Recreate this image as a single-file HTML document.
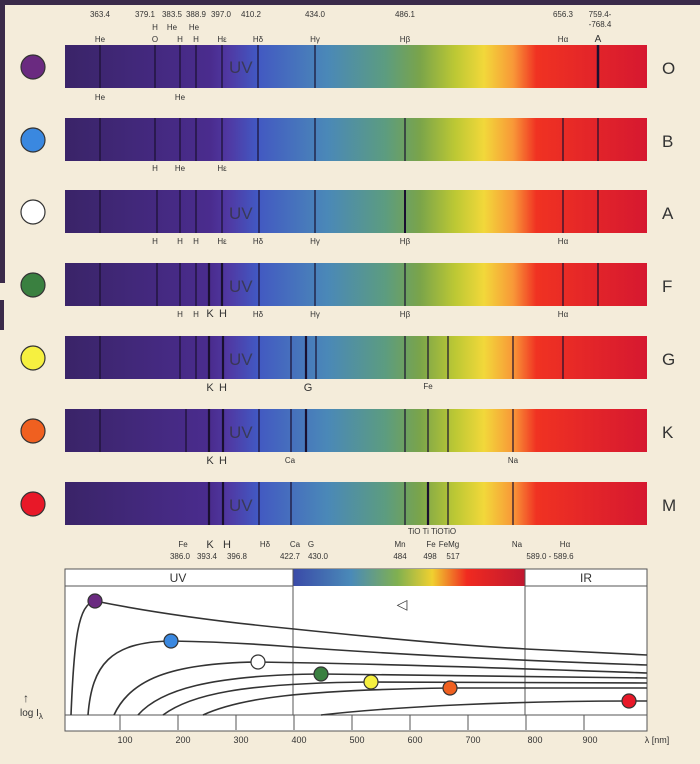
<!DOCTYPE html>
<html><head><meta charset="utf-8"><style>
body{margin:0;background:#f4ecda;}
svg{display:block}
text{font-family:"Liberation Sans",sans-serif;fill:#333}
</style></head><body>
<svg width="700" height="764" viewBox="0 0 700 764" xmlns="http://www.w3.org/2000/svg">
<defs>
<linearGradient id="sp" x1="65" x2="647" y1="0" y2="0" gradientUnits="userSpaceOnUse">
<stop offset="0" stop-color="#3a2468"/>
<stop offset="0.25" stop-color="#4a2c8e"/>
<stop offset="0.28" stop-color="#5038a2"/>
<stop offset="0.33" stop-color="#4258c2"/>
<stop offset="0.45" stop-color="#4a88b8"/>
<stop offset="0.55" stop-color="#5c9c80"/>
<stop offset="0.61" stop-color="#7aa44a"/>
<stop offset="0.67" stop-color="#bcc834"/>
<stop offset="0.72" stop-color="#f2d83a"/>
<stop offset="0.77" stop-color="#f89838"/>
<stop offset="0.81" stop-color="#f03222"/>
<stop offset="1" stop-color="#d61830"/>
</linearGradient>
<linearGradient id="hs" x1="293" x2="525" y1="0" y2="0" gradientUnits="userSpaceOnUse">
<stop offset="0" stop-color="#3a4aa8"/>
<stop offset="0.25" stop-color="#4a8ab8"/>
<stop offset="0.45" stop-color="#80b050"/>
<stop offset="0.6" stop-color="#f0d030"/>
<stop offset="0.75" stop-color="#f02a20"/>
<stop offset="1" stop-color="#c01830"/>
</linearGradient>
</defs>
<rect x="0" y="0" width="700" height="5" fill="#3a2a4a"/>
<rect x="0" y="0" width="5" height="283" fill="#3a2a4a"/>
<rect x="0" y="300" width="4" height="30" fill="#3a2a4a"/>
<g font-size="8" text-anchor="middle" fill="#444">
<text x="100" y="17">363.4</text><text x="145" y="17">379.1</text><text x="172" y="17">383.5</text><text x="196" y="17">388.9</text><text x="221" y="17">397.0</text><text x="251" y="17">410.2</text><text x="315" y="17">434.0</text><text x="405" y="17">486.1</text><text x="563" y="17">656.3</text><text x="600" y="17">759.4-</text><text x="600" y="27">-768.4</text>
<text x="155" y="30">H</text><text x="172" y="30">He</text><text x="194" y="30">He</text>
<text x="100" y="42">He</text><text x="155" y="42">O</text><text x="180" y="42">H</text><text x="196" y="42">H</text><text x="222" y="42">Hε</text><text x="258" y="42">Hδ</text><text x="315" y="42">Hγ</text><text x="405" y="42">Hβ</text><text x="563" y="42">Hα</text><text x="598" y="42" font-size="10">A</text>
<text x="100" y="100">He</text><text x="180" y="100">He</text>
<text x="155" y="171">H</text><text x="180" y="171">He</text><text x="222" y="171">Hε</text>
<text x="155" y="244">H</text><text x="180" y="244">H</text><text x="196" y="244">H</text><text x="222" y="244">Hε</text><text x="258" y="244">Hδ</text><text x="315" y="244">Hγ</text><text x="405" y="244">Hβ</text><text x="563" y="244">Hα</text>
<text x="180" y="317">H</text><text x="196" y="317">H</text><text x="210" y="317" font-size="11">K</text><text x="223" y="317" font-size="11">H</text><text x="258" y="317">Hδ</text><text x="315" y="317">Hγ</text><text x="405" y="317">Hβ</text><text x="563" y="317">Hα</text>
<text x="210" y="391" font-size="11">K</text><text x="223" y="391" font-size="11">H</text><text x="308" y="391" font-size="11">G</text><text x="428" y="389">Fe</text>
<text x="210" y="464" font-size="11">K</text><text x="223" y="464" font-size="11">H</text><text x="290" y="463">Ca</text><text x="513" y="463">Na</text>
<text x="432" y="534">TiO Ti TiOTiO</text>
<text x="183" y="547">Fe</text><text x="210" y="548" font-size="11">K</text><text x="227" y="548" font-size="11">H</text><text x="265" y="547">Hδ</text><text x="295" y="547">Ca</text><text x="311" y="547">G</text><text x="400" y="547">Mn</text><text x="431" y="547">Fe</text><text x="449" y="547">FeMg</text><text x="517" y="547">Na</text><text x="565" y="547">Hα</text>
<text x="180" y="559">386.0</text><text x="207" y="559">393.4</text><text x="237" y="559">396.8</text><text x="290" y="559">422.7</text><text x="318" y="559">430.0</text><text x="400" y="559">484</text><text x="430" y="559">498</text><text x="453" y="559">517</text><text x="550" y="559">589.0 - 589.6</text>
</g>
<g id="bars">
<rect x="65" y="45" width="582" height="43" fill="url(#sp)"/>
<rect x="65" y="118" width="582" height="43" fill="url(#sp)"/>
<rect x="65" y="190" width="582" height="43" fill="url(#sp)"/>
<rect x="65" y="263" width="582" height="43" fill="url(#sp)"/>
<rect x="65" y="336" width="582" height="43" fill="url(#sp)"/>
<rect x="65" y="409" width="582" height="43" fill="url(#sp)"/>
<rect x="65" y="482" width="582" height="43" fill="url(#sp)"/>
</g>
<g stroke="#1a1030" stroke-width="1.2">
<path d="M100 45v43M155 45v43M180 45v43M196 45v43M222 45v43M258 45v43M315 45v43"/>
<path d="M598 45v43" stroke-width="2.5"/>
<path d="M100 118v43M155 118v43M180 118v43M196 118v43M222 118v43M258 118v43M315 118v43M405 118v43M563 118v43M598 118v43"/>
<path d="M100 190v43M157 190v43M180 190v43M196 190v43M222 190v43M259 190v43M315 190v43M563 190v43M598 190v43"/>
<path d="M405 190v43" stroke-width="2"/>
<path d="M100 263v43M157 263v43M180 263v43M196 263v43M259 263v43M315 263v43M405 263v43M563 263v43M598 263v43"/>
<path d="M209 263v43M222 263v43" stroke-width="2.2"/>
<path d="M100 336v43M180 336v43M196 336v43M259 336v43M291 336v43M316 336v43M405 336v43M428 336v43M448 336v43M513 336v43M563 336v43"/>
<path d="M209 336v43M223 336v43M306 336v43" stroke-width="2.2"/>
<path d="M100 409v43M186 409v43M259 409v43M291 409v43M405 409v43M428 409v43M448 409v43M513 409v43"/>
<path d="M209 409v43M223 409v43M306 409v43" stroke-width="2.2"/>
<path d="M259 482v43M291 482v43M405 482v43M448 482v43M513 482v43"/>
<path d="M209 482v43M223 482v43M428 482v43" stroke-width="2.2"/>
</g>
<g font-size="17" fill="#4a3a8a" opacity="0.7"><text x="229" y="73">UV</text><text x="229" y="219">UV</text><text x="229" y="292">UV</text><text x="229" y="365">UV</text><text x="229" y="438">UV</text><text x="229" y="511">UV</text></g>
<g font-size="17" fill="#222"><text x="662" y="74">O</text><text x="662" y="147">B</text><text x="662" y="219">A</text><text x="662" y="292">F</text><text x="662" y="365">G</text><text x="662" y="438">K</text><text x="662" y="511">M</text></g>
<g stroke="#333" stroke-width="1.2">
<circle cx="33" cy="67" r="12" fill="#6a2a80"/>
<circle cx="33" cy="140" r="12" fill="#3a88e0"/>
<circle cx="33" cy="212" r="12" fill="#fff"/>
<circle cx="33" cy="285" r="12" fill="#3a8040"/>
<circle cx="33" cy="358" r="12" fill="#f6f040"/>
<circle cx="33" cy="431" r="12" fill="#f06020"/>
<circle cx="33" cy="504" r="12" fill="#e81828"/>
</g>
<!-- bottom chart -->
<rect x="65" y="569" width="582" height="162" fill="#fff" stroke="#555" stroke-width="1"/>
<rect x="293" y="569" width="232" height="17" fill="url(#hs)"/>
<g stroke="#555" stroke-width="1" fill="none">
<path d="M65 586H293M525 586H647M293 569V715M525 569V715M65 715H647"/>
<path d="M120 715v15M178 715v15M236 715v15M294 715v15M352 715v15M410 715v15M468 715v15M526 715v15M584 715v15"/>
</g>
<text x="178" y="582" font-size="12" text-anchor="middle">UV</text>
<text x="586" y="582" font-size="12" text-anchor="middle">IR</text>
<text x="402" y="609" font-size="14" text-anchor="middle" fill="#666">◁</text>
<g stroke="#333" stroke-width="1.6" fill="none">
<path d="M71 715C74 640 78 604 95 601C140 610 200 620 294 629C400 640 470 646 526 649C580 652 620 654 647 655"/>
<path d="M88 715C92 665 110 642 171 641C230 642 270 645 294 647C420 656 560 662 647 665"/>
<path d="M114 715C130 680 170 663 258 662C400 664 560 670 647 673"/>
<path d="M138 715C160 690 210 675 321 674C450 675 560 677 647 678"/>
<path d="M163 715C190 695 240 683 371 682C480 682 580 683 647 683"/>
<path d="M203 715C240 698 300 690 450 688C540 688 600 688 647 688"/>
<path d="M321 715C400 706 520 701 629 701L647 701"/>
</g>
<g stroke="#333" stroke-width="1.2">
<circle cx="95" cy="601" r="7" fill="#6a2a80"/>
<circle cx="171" cy="641" r="7" fill="#3a88e0"/>
<circle cx="258" cy="662" r="7" fill="#fff"/>
<circle cx="321" cy="674" r="7" fill="#3a8040"/>
<circle cx="371" cy="682" r="7" fill="#f6f040"/>
<circle cx="450" cy="688" r="7" fill="#f06020"/>
<circle cx="629" cy="701" r="7" fill="#e81828"/>
</g>
<g font-size="9" text-anchor="middle" fill="#555">
<text x="125" y="743">100</text><text x="183" y="743">200</text><text x="241" y="743">300</text><text x="299" y="743">400</text><text x="357" y="743">500</text><text x="415" y="743">600</text><text x="473" y="743">700</text><text x="535" y="743">800</text><text x="590" y="743">900</text><text x="657" y="743">λ [nm]</text>
</g>
<text x="26" y="702" font-size="12" text-anchor="middle">↑</text>
<text x="20" y="716" font-size="10">log I<tspan font-size="8" dy="3">λ</tspan></text>
</svg>
</body></html>
